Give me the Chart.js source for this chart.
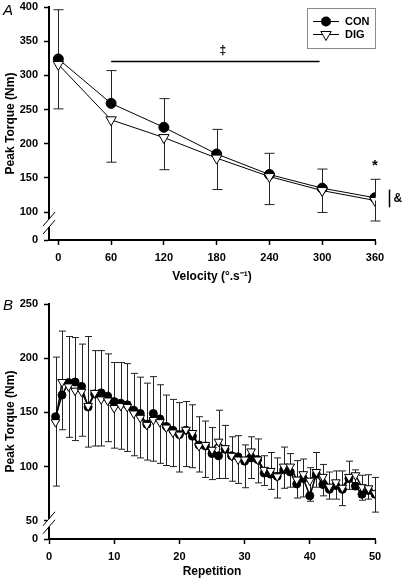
<!DOCTYPE html>
<html><head><meta charset="utf-8">
<script src="https://cdn.jsdelivr.net/npm/chart.js@4.4.0/dist/chart.umd.min.js"></script>
<style>
html,body{margin:0;padding:0;background:#fff;overflow:hidden;}
#ca{position:absolute;left:0;top:0;}
#cb{position:absolute;left:0;top:290px;}
</style></head><body>
<canvas id="ca" width="403" height="290"></canvas>
<canvas id="cb" width="403" height="291"></canvas>
<script>
// ---------- Panel A data ----------
const velocity = [0, 60, 120, 180, 240, 300, 360];
const aCon   = [324, 259, 224, 185, 155, 135, 121];
const aDig   = [316, 235, 209, 179, 152, 131.5, 117];
const aConSD = [72, 48, 42, 36, 31, 28, 27];
const aDigSD = [65, 62, 47, 46, 41, 32, 30];
const aXTicks = [0, 60, 120, 180, 240, 300, 360];
const aYTicks = [100, 150, 200, 250, 300, 350, 400];

// ---------- Panel B data ----------
const reps = [1,2,3,4,5,6,7,8,9,10,11,12,13,14,15,16,17,18,19,20,21,22,23,24,25,26,27,28,29,30,31,32,33,34,35,36,37,38,39,40,41,42,43,44,45,46,47,48,49,50];
const bCon = [146,166,177.5,178,174,155,167,168,165,160,158.5,157,152,149,139,149,144,137,133.5,129.5,133.5,128,120,119,112,110,116,110,109,105,108,106.5,94,93,91,97,95,84,89,73,93,83.5,79,82.5,79,89,82,74.5,78,74.5];
const bDig = [141,178,174,170,169,156,168,162,161,154,156,155,149,145,138.5,143,141,136,131.5,129.5,134,131,119,120,115.5,123,117,110,106.5,106.5,114,106.5,97,96,91,100,100,88,93,87,95,90.5,81.5,85.5,80.5,90.5,92,81,80,75.5];
const bConSD = [55,59,42.5,41,39,65,40,39,39,36,37.5,38,34,33.5,38,34,31.5,29,28.5,29.5,26.5,29,26,23,24,42,22,17.5,19.5,15,19.5,19,16,20,17,21,17,21.5,18,26,20,18.5,16,13.5,17,16,15,17.5,14.5,15.5];
const bDigSD = [59,44,47,46,41,38,49,43,38,37,40,41,39,37,32.5,38,38,35,31.5,34.5,34,32,24,30,27.5,34,28,23.5,22,26,25,21.5,14.5,17,20,20,19,17,21,19,14,17.5,11.5,15.5,16.5,11.5,13,12,10,17.5];
const bXTicks = [0, 10, 20, 30, 40, 50];
const bYTicks = [50, 100, 150, 200, 250];

const FONT = "'Liberation Sans', Arial, sans-serif";
const aYMin = 59.2;   // value drawn at the "0" tick under the axis break
const bYMin = 33.2;

const errorBars = {
  id: 'errorBars',
  beforeDatasetsDraw(chart, args, opts) {
    const ctx = chart.ctx, ys = chart.scales.y;
    ctx.save();
    ctx.strokeStyle = opts.color || '#222';
    ctx.lineWidth = opts.width || 1;
    const cw = opts.cap || 4;
    chart.data.datasets.forEach((ds, di) => {
      const meta = chart.getDatasetMeta(di);
      meta.data.forEach((pt, i) => {
        const v = ds.data[i].y;
        const x = Math.round(pt.x) + 0.5;
        const draw = (val) => {
          const y1 = ys.getPixelForValue(val);
          ctx.beginPath();
          ctx.moveTo(x, pt.y); ctx.lineTo(x, y1);
          ctx.moveTo(x - cw, y1); ctx.lineTo(x + cw, y1);
          ctx.stroke();
        };
        if (ds.errPlus) draw(v + ds.errPlus[i]);
        if (ds.errMinus) draw(v - ds.errMinus[i]);
      });
    });
    ctx.restore();
  }
};

function drawBreak(chart, yc) {
  const ctx = chart.ctx, x = chart.chartArea.left;
  ctx.save();
  ctx.fillStyle = '#fff';
  ctx.fillRect(x - 2, yc - 4, 4, 8);
  ctx.strokeStyle = '#000';
  ctx.lineWidth = 1;
  [-4, 4].forEach(d => {
    ctx.beginPath();
    ctx.moveTo(x - 6, yc + d + 7);
    ctx.lineTo(x + 6, yc + d - 7);
    ctx.stroke();
  });
  ctx.restore();
}

function tri(ctx, x, y, r) {
  ctx.beginPath();
  ctx.moveTo(x, y + r);
  ctx.lineTo(x - r * Math.sin(Math.PI / 3), y - r / 2);
  ctx.lineTo(x + r * Math.sin(Math.PI / 3), y - r / 2);
  ctx.closePath();
  ctx.fillStyle = '#fff'; ctx.fill();
  ctx.strokeStyle = '#000'; ctx.lineWidth = 1; ctx.stroke();
}

const decoA = {
  id: 'decoA',
  afterDraw(chart) {
    const ctx = chart.ctx, xs = chart.scales.x, ys = chart.scales.y, ca = chart.chartArea;
    drawBreak(chart, ys.getPixelForValue(100) + 11);
    ctx.save();
    ctx.fillStyle = '#000';
    ctx.font = "italic 15px " + FONT;
    ctx.textBaseline = 'alphabetic'; ctx.textAlign = 'left';
    ctx.fillText('A', 3, 15);
    // significance bar
    ctx.strokeStyle = '#000'; ctx.lineWidth = 1.5;
    const yb = Math.round(ys.getPixelForValue(321)) + 0.5;
    ctx.beginPath(); ctx.moveTo(xs.getPixelForValue(60), yb); ctx.lineTo(xs.getPixelForValue(297), yb); ctx.stroke();
    ctx.font = "bold 12px " + FONT; ctx.textAlign = 'center'; ctx.textBaseline = 'middle';
    ctx.fillText('\u2021', xs.getPixelForValue(187), ys.getPixelForValue(336));
    ctx.font = "bold 15px " + FONT;
    ctx.fillText('*', xs.getPixelForValue(360), ys.getPixelForValue(168));
    // | &
    const xr = ca.right + 14.5;
    ctx.lineWidth = 1.5;
    ctx.beginPath(); ctx.moveTo(xr, ys.getPixelForValue(133)); ctx.lineTo(xr, ys.getPixelForValue(107)); ctx.stroke();
    ctx.font = "bold 12px " + FONT; ctx.textAlign = 'left';
    ctx.fillText('&', xr + 4, ys.getPixelForValue(120));
    // legend
    const lx = ca.right - 68, ly = ca.top + 0.5;
    ctx.lineWidth = 1; ctx.strokeStyle = '#8a8a8a';
    ctx.strokeRect(Math.round(lx) + 0.5, Math.round(ly) + 0.5, 68, 40);
    const rows = [['CON', ly + 14], ['DIG', ly + 27]];
    rows.forEach(([t, y], k) => {
      ctx.strokeStyle = '#000'; ctx.lineWidth = 1;
      ctx.beginPath(); ctx.moveTo(lx + 6, y); ctx.lineTo(lx + 32, y); ctx.stroke();
      if (k === 0) {
        ctx.beginPath(); ctx.arc(lx + 19, y, 5, 0, Math.PI * 2); ctx.fillStyle = '#000'; ctx.fill();
      } else {
        tri(ctx, lx + 19, y, 6);
      }
      ctx.fillStyle = '#000'; ctx.font = "bold 11px " + FONT; ctx.textAlign = 'left'; ctx.textBaseline = 'middle';
      ctx.fillText(t, lx + 38, y);
    });
    ctx.restore();
  }
};

const decoB = {
  id: 'decoB',
  afterDraw(chart) {
    const ctx = chart.ctx, ys = chart.scales.y;
    drawBreak(chart, ys.getPixelForValue(50) + 2);
    ctx.save();
    ctx.fillStyle = '#000';
    ctx.font = "italic 15px " + FONT;
    ctx.textBaseline = 'alphabetic'; ctx.textAlign = 'left';
    ctx.fillText('B', 3, 20);
    ctx.restore();
  }
};

function axisCommon(titleText, titlePad) {
  return {
    type: 'linear',
    grid: { display: true, drawOnChartArea: false, tickLength: 5, tickColor: '#000', tickWidth: 1.5 },
    border: { display: true, color: '#000', width: 2 },
    ticks: { color: '#000', font: { family: FONT, weight: 'bold', size: 11 }, padding: 6, maxRotation: 0, autoSkip: false },
    title: { display: true, text: titleText, color: '#000', font: { family: FONT, weight: 'bold', size: 12 }, padding: titlePad }
  };
}

function makeChart(id, cfg) {
  return new Chart(document.getElementById(id), cfg);
}

// ---------- Panel A ----------
const axA = axisCommon('Velocity (\u00B0.s\u207B\u00B9)', { top: 0, bottom: 6 });
axA.min = -10.6; axA.max = 360;
axA.afterBuildTicks = s => { s.ticks = aXTicks.map(v => ({ value: v })); };
axA.afterFit = s => { s.height = 50; };
const ayA = axisCommon('Peak Torque (Nm)', { top: 3, bottom: 0 });
ayA.min = aYMin; ayA.max = 400;
ayA.afterBuildTicks = s => { s.ticks = [aYMin].concat(aYTicks).map(v => ({ value: v })); };
ayA.ticks.callback = v => (v === aYMin ? '0' : v);
ayA.afterFit = s => { s.width = 49; s.paddingTop = 0; s.paddingBottom = 0; };

makeChart('ca', {
  type: 'line',
  data: {
    datasets: [
      { label: 'CON', data: velocity.map((v, i) => ({ x: v, y: aCon[i] })), errPlus: aConSD,
        borderColor: '#000', borderWidth: 1, pointStyle: 'circle', pointRadius: 5,
        pointBackgroundColor: '#000', pointBorderColor: '#000', pointBorderWidth: 1, order: 2, tension: 0 },
      { label: 'DIG', data: velocity.map((v, i) => ({ x: v, y: aDig[i] })), errMinus: aDigSD,
        borderColor: '#000', borderWidth: 1, pointStyle: 'triangle', pointRotation: 180, pointRadius: 6,
        pointBackgroundColor: '#fff', pointBorderColor: '#000', pointBorderWidth: 1, order: 1, tension: 0 }
    ]
  },
  options: {
    responsive: false, animation: false, devicePixelRatio: 1,
    layout: { padding: { top: 7, right: 28, bottom: 0, left: 0 } },
    plugins: { legend: { display: false }, tooltip: { enabled: false }, errorBars: { color: '#222', width: 1, cap: 5 } },
    scales: { x: axA, y: ayA }
  },
  plugins: [errorBars, decoA]
});

// ---------- Panel B ----------
const axB = axisCommon('Repetition', { top: 0, bottom: 2 });
axB.min = 0; axB.max = 50;
axB.afterBuildTicks = s => { s.ticks = bXTicks.map(v => ({ value: v })); };
axB.afterFit = s => { s.height = 42; };
const ayB = axisCommon('Peak Torque (Nm)', { top: 3, bottom: 0 });
ayB.min = bYMin; ayB.max = 250;
ayB.afterBuildTicks = s => { s.ticks = [bYMin].concat(bYTicks).map(v => ({ value: v })); };
ayB.ticks.callback = v => (v === bYMin ? '0' : v);
ayB.afterFit = s => { s.width = 49; s.paddingTop = 0; s.paddingBottom = 0; };

makeChart('cb', {
  type: 'line',
  data: {
    datasets: [
      { label: 'CON', data: reps.map((r, i) => ({ x: r, y: bCon[i] })), errPlus: bConSD,
        borderColor: '#000', borderWidth: 1.5, pointStyle: 'circle', pointRadius: 4,
        pointBackgroundColor: '#000', pointBorderColor: '#000', pointBorderWidth: 1, order: 2, tension: 0 },
      { label: 'DIG', data: reps.map((r, i) => ({ x: r, y: bDig[i] })), errMinus: bDigSD,
        borderColor: '#000', borderWidth: 1.5, pointStyle: 'triangle', pointRotation: 180, pointRadius: 5,
        pointBackgroundColor: '#fff', pointBorderColor: '#000', pointBorderWidth: 1, order: 1, tension: 0 }
    ]
  },
  options: {
    responsive: false, animation: false, devicePixelRatio: 1,
    layout: { padding: { top: 14, right: 28, bottom: 0, left: 0 } },
    plugins: { legend: { display: false }, tooltip: { enabled: false }, errorBars: { color: '#222', width: 1, cap: 3.5 } },
    scales: { x: axB, y: ayB }
  },
  plugins: [errorBars, decoB]
});
</script>
</body></html>
